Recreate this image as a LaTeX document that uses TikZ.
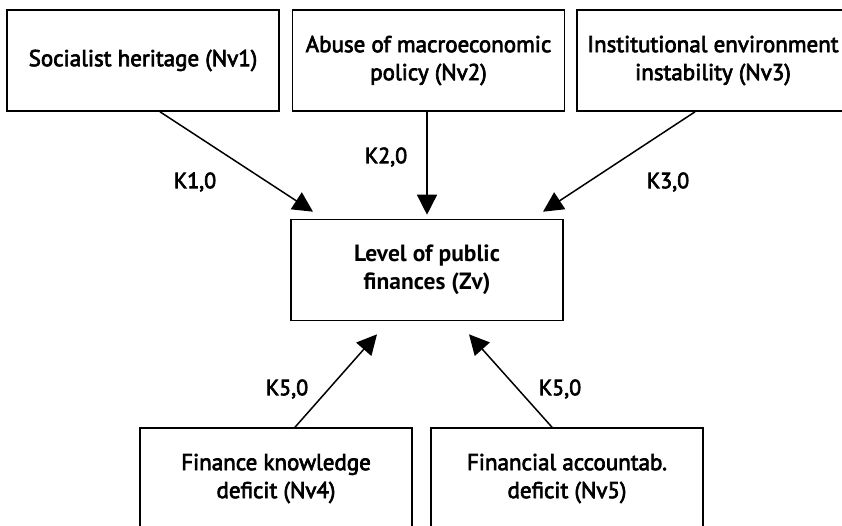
\documentclass[tikz,border=0pt]{standalone}
\usepackage{fontspec}
\setmainfont{PT Sans}
\newfontfamily\semib[FakeBold=3]{PT Sans}
\usetikzlibrary{calc,arrows.meta}
\tikzset{
  box/.style={draw, line width=1.6pt, minimum width=272pt, minimum height=101pt, align=center, inner sep=0pt, font=\semib\fontsize{23}{28}\selectfont},
  kval/.style={font=\semib\fontsize{22}{24}\selectfont},
  arr/.style={line width=1.5pt, -{Triangle[length=20pt,width=20pt]}}
}
\begin{document}
\begin{tikzpicture}[x=1pt,y=-1pt]
              \useasboundingbox (0,0) rectangle (842,525);
              \clip (0,0) rectangle (842,525);
              \node[box] (nv1) at (143,60.5) {Socialist heritage (Nv1)};
              \node[box] (nv2) at (428.5,60.5) {Abuse of macroeconomic\\policy (Nv2)};
              \node[box] (nv3) at (713,60.5) {Institutional environment\\instability (Nv3)};
              \node[box,font=\fontsize{23.5}{28}\selectfont\bfseries] (zv) at (427,270) {Level of public\\finances (Zv)};
              \node[box] (nv4) at (276,478.5) {Finance knowledge\\deficit (Nv4)};
              \node[box] (nv5) at (567,478.5) {Financial accountab.\\deficit (Nv5)};

              \draw[arr] ([xshift=17pt]nv1.south) -- ([xshift=-114pt,yshift=7pt]zv.north);
                \node[kval] (k1) at (195,182) {K1,0};
              \draw[arr] ([xshift=-1.5pt]nv2.south) -- ([yshift=4pt]zv.north);
                \node[kval] (k2) at (386,157) {K2,0};
              \draw[arr] ([xshift=-18pt]nv3.south) -- ([xshift=116pt,yshift=7pt]zv.north);
                \node[kval] (k3) at (668,182) {K3,0};

              \draw[arr] ([xshift=19pt]nv4.north) -- ([xshift=-50pt,yshift=-13pt]zv.south);
                \node[kval] (k4) at (287,389) {K5,0};
              \draw[arr] ([xshift=-15pt]nv5.north) -- ([xshift=42pt,yshift=-13pt]zv.south);
                \node[kval] (k5) at (560,389) {K5,0};
\end{tikzpicture}
\end{document}
